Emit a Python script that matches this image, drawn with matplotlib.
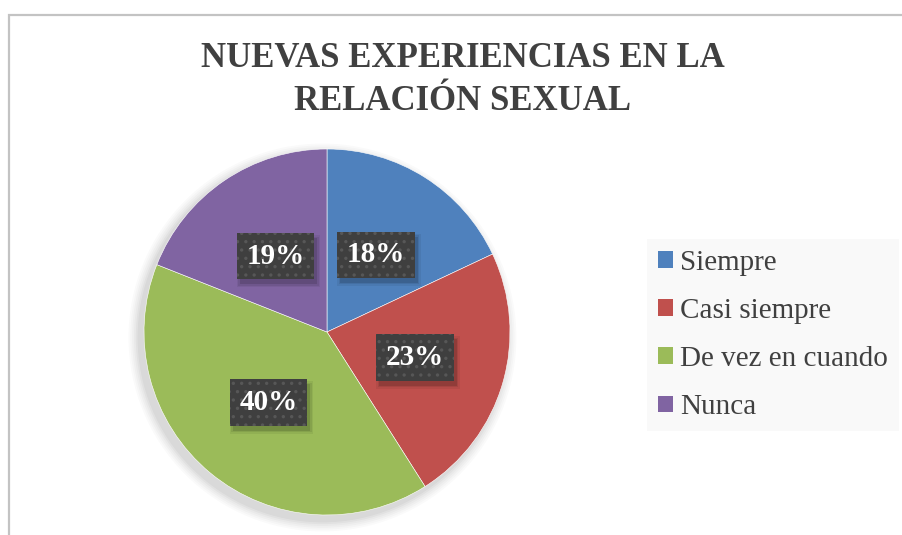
import matplotlib
matplotlib.use("Agg")
import matplotlib.pyplot as plt
from matplotlib.patches import Rectangle, Circle, Patch

title = "NUEVAS EXPERIENCIAS EN LA\nRELACIÓN SEXUAL"
categories = ["Siempre", "Casi siempre", "De vez en cuando", "Nunca"]
values = [18, 23, 40, 19]
colors = ["#4F81BD", "#C0504D", "#9BBB59", "#8064A2"]

plt.rcParams['font.family'] = ['Liberation Serif', 'DejaVu Serif']
plt.rcParams['hatch.linewidth'] = 1.2

W, H = 903, 535
fig = plt.figure(figsize=(W / 100, H / 100), dpi=100)
fig.patch.set_facecolor("white")

# chart border (cropped at right/bottom)
fig.add_artist(Rectangle((9 / W, -0.1), 1.2, 1 - 15 / H + 0.1,
                         transform=fig.transFigure, fill=False,
                         edgecolor="#C3C3C3", linewidth=1.6))

fig.text(463 / W, 1 - 80 / H, title, ha="center", va="center",
         fontsize=25, fontweight="bold", color="#404040", linespacing=1.42)

cx, cy, R = 327, 332, 183
ax = fig.add_axes([(cx - R) / W, (H - cy - R) / H, 2 * R / W, 2 * R / H])

# soft shadow
for i, a in enumerate([0.02, 0.02, 0.025, 0.025, 0.03, 0.035]):
    ax.add_patch(Circle((-0.025, -0.03), 1.0 + 0.06 - i * 0.01,
                        facecolor="black", edgecolor="none", alpha=a, zorder=0,
                        clip_on=False))

wedges, texts, autotexts = ax.pie(
    values, colors=colors, startangle=90, counterclock=False, radius=1.0,
    autopct=lambda p: f"{p:.0f}%", pctdistance=0.5,
    wedgeprops=dict(edgecolor="white", linewidth=0.4),
    textprops=dict(color="white", fontsize=21, fontweight="bold"))
ax.set_xlim(-1, 1)
ax.set_ylim(-1, 1)
ax.set_aspect("equal")
ax.axis("off")

for t in autotexts:
    t.set_zorder(5)
    t.set_bbox(dict(boxstyle="square,pad=0.33", facecolor="#3F3F3F",
                    edgecolor="#575757", linewidth=0, hatch=".."))

handles = [Patch(facecolor=c, edgecolor="none") for c in colors]
leg = fig.legend(handles, categories, loc="center left",
                 bbox_to_anchor=(647 / W, 1 - 335 / H), frameon=True,
                 fontsize=21, handlelength=0.5, handleheight=0.5,
                 handletextpad=0.25, labelspacing=0.76, borderpad=0.38,
                 borderaxespad=0, fancybox=False)
leg.get_frame().set_facecolor("#F8F8F8")
leg.get_frame().set_edgecolor("none")
for txt in leg.get_texts():
    txt.set_color("#404040")

# soft drop shadows of the label boxes (inside the pie axes, under the boxes)
fig.canvas.draw()
inv = ax.transData.inverted()
for t in autotexts:
    bb = t.get_bbox_patch().get_window_extent()
    for grow, a in [(3, 0.06), (1.5, 0.08), (0, 0.12)]:
        (x0, y0), (x1, y1) = inv.transform([(bb.x0 + 3 - grow, bb.y0 - 5 - grow),
                                            (bb.x1 + 3 + grow, bb.y1 - 5 + grow)])
        ax.add_patch(Rectangle((x0, y0), x1 - x0, y1 - y0, facecolor="black",
                               edgecolor="none", alpha=a, zorder=3))

fig.savefig("out.png", dpi=100, facecolor="white")
